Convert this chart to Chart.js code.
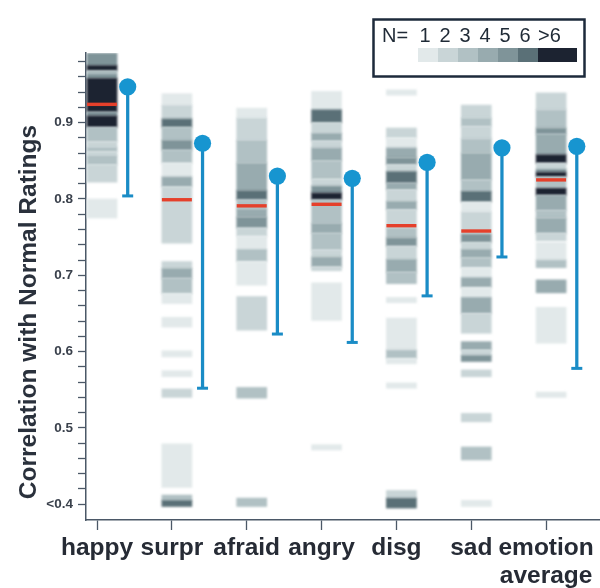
<!DOCTYPE html>
<html><head><meta charset="utf-8">
<script src="https://cdn.jsdelivr.net/npm/chart.js@4/dist/chart.umd.min.js"></script>
<style>html,body{margin:0;padding:0;background:#fff}canvas{display:block}</style>
</head><body>
<canvas id="c" width="600" height="588"></canvas>
<script>
// ---------------- data ----------------
const categories = ['happy', 'surpr', 'afraid', 'angry', 'disg', 'sad', 'emotion average'];

// Density strips: [upper, lower, N]  (N = 7 means ">6")
const happyBands = [[0.991,0.975,5],[0.975,0.968,7],[0.968,0.964,3],[0.964,0.958,5],[0.958,0.914,7],[0.914,0.909,5],[0.909,0.894,7],
  [0.894,0.875,3],[0.875,0.868,2],[0.868,0.862,3],[0.862,0.857,2],[0.857,0.845,3],[0.845,0.822,2],[0.800,0.775,1]];
const surprBands = [[0.938,0.923,1],[0.923,0.905,2],[0.905,0.894,6],[0.894,0.877,3],[0.877,0.864,5],[0.864,0.847,3],[0.847,0.829,1],
  [0.829,0.816,4],[0.816,0.742,2],[0.718,0.709,2],[0.709,0.696,4],[0.696,0.676,3],[0.676,0.663,1],[0.645,0.632,1],[0.601,0.593,1],
  [0.575,0.567,1],[0.551,0.540,2],[0.479,0.422,1],[0.412,0.405,3],[0.405,0.397,6]];
const afraidBands = [[0.919,0.906,1],[0.906,0.877,2],[0.877,0.847,3],[0.847,0.811,4],[0.811,0.799,6],[0.799,0.787,3],[0.787,0.776,4],
  [0.776,0.762,5],[0.762,0.751,2],[0.751,0.734,1],[0.734,0.718,3],[0.718,0.687,1],[0.672,0.628,2],[0.553,0.539,3],[0.408,0.397,3]];
const angryBands = [[0.941,0.917,1],[0.917,0.900,6],[0.900,0.886,2],[0.886,0.876,4],[0.876,0.867,2],[0.867,0.850,4],[0.850,0.826,3],
  [0.826,0.817,2],[0.817,0.808,5],[0.808,0.799,7],[0.799,0.768,3],[0.768,0.755,4],[0.755,0.733,3],[0.733,0.724,2],[0.724,0.711,4],
  [0.711,0.706,2],[0.690,0.641,1],[0.478,0.471,1]];
const disgBands = [[0.943,0.936,1],[0.893,0.880,2],[0.880,0.867,1],[0.867,0.854,4],[0.854,0.845,5],[0.845,0.836,2],[0.836,0.821,6],
  [0.821,0.812,4],[0.812,0.797,2],[0.797,0.786,4],[0.786,0.762,2],[0.762,0.749,3],[0.749,0.738,5],[0.738,0.721,2],[0.721,0.704,4],
  [0.704,0.689,3],[0.671,0.664,1],[0.644,0.602,1],[0.602,0.591,3],[0.591,0.584,1],[0.559,0.552,1],[0.418,0.408,2],[0.408,0.395,6]];
const sadBands = [[0.923,0.906,2],[0.906,0.895,3],[0.895,0.879,2],[0.879,0.860,3],[0.860,0.825,4],[0.825,0.810,3],[0.810,0.796,6],
  [0.796,0.783,1],[0.783,0.754,2],[0.754,0.743,5],[0.743,0.734,2],[0.734,0.723,4],[0.723,0.710,3],[0.710,0.697,1],[0.697,0.684,4],
  [0.684,0.671,1],[0.671,0.650,4],[0.650,0.624,2],[0.613,0.602,4],[0.602,0.595,2],[0.595,0.587,5],[0.576,0.567,2],[0.519,0.508,2],
  [0.475,0.458,3],[0.405,0.397,1]];
const averageBands = [[0.939,0.917,2],[0.917,0.893,3],[0.893,0.885,5],[0.885,0.858,4],[0.858,0.847,7],[0.847,0.839,2],[0.839,0.835,5],
  [0.835,0.829,7],[0.829,0.814,3],[0.814,0.805,7],[0.805,0.785,4],[0.785,0.775,3],[0.775,0.755,4],[0.755,0.745,2],[0.743,0.720,1],
  [0.720,0.710,3],[0.694,0.677,4],[0.658,0.611,1],[0.547,0.540,1]];

// Median patient correlation (red bars)
const medians = [0.924, 0.799, 0.791, 0.793, 0.765, 0.758, 0.825];
// Normal-subject range (blue lollipops): top dot and bottom cap
const normalHigh = [0.947, 0.873, 0.830, 0.827, 0.848, 0.867, 0.869];
const normalLow  = [0.804, 0.552, 0.623, 0.612, 0.673, 0.724, 0.578];

// Axis ticks
const yMajorTicks  = [0.4, 0.5, 0.6, 0.7, 0.8, 0.9];
const yMajorLabels = ['<0.4', '0.5', '0.6', '0.7', '0.8', '0.9'];
const yMinorTicks  = [0.42, 0.44, 0.46, 0.48, 0.52, 0.54, 0.56, 0.58, 0.62, 0.64, 0.66, 0.68, 0.72, 0.74, 0.76, 0.78,
                      0.82, 0.84, 0.86, 0.88, 0.92, 0.94, 0.96, 0.98];
const legendLabels = ['1', '2', '3', '4', '5', '6', '>6'];

// ---------------- styling ----------------
const grays = ['#e2e9ea', '#c9d5d7', '#b1c1c4', '#98abaf', '#7f9499', '#5a7077', '#1c2331'];
const FONT = '"Liberation Sans", Arial, Helvetica, sans-serif';
const STRIP_OFF = 0.067, LOLLI_OFF = 0.41;
const allBands = [happyBands, surprBands, afraidBands, angryBands, disgBands, sadBands, averageBands];

const bandData = [], bandColors = [];
allBands.forEach((bands, i) => bands.forEach(b => {
  bandData.push({x: i + STRIP_OFF, y: [b[1], b[0]]});
  bandColors.push(grays[b[2] - 1]);
}));

const blurPlugin = {
  id: 'blurBands',
  beforeDatasetDraw(chart, args) { if (args.index === 0) { chart.ctx.save(); chart.ctx.filter = 'blur(0.8px)'; } },
  afterDatasetDraw(chart, args) { if (args.index === 0) { chart.ctx.restore(); } }
};

const decoPlugin = {
  id: 'deco',
  afterDraw(chart) {
    const ctx = chart.ctx;
    ctx.save();
    // y-axis title
    ctx.translate(29, 312);
    ctx.rotate(-Math.PI / 2);
    ctx.font = 'bold 24.5px ' + FONT;
    ctx.fillStyle = '#2a313c';
    ctx.textAlign = 'center';
    ctx.textBaseline = 'middle';
    ctx.fillText('Correlation with Normal Ratings', 0, 0);
    ctx.restore();

    // N legend
    ctx.save();
    ctx.strokeStyle = '#1d2a3b';
    ctx.lineWidth = 2.5;
    ctx.strokeRect(373.5, 19.5, 211, 57);
    ctx.fillStyle = '#1f2a36';
    ctx.font = '20px "Liberation Sans Narrow", "Liberation Sans", Arial, sans-serif';
    ctx.textBaseline = 'middle';
    ctx.textAlign = 'left';
    ctx.fillText('N=', 382, 36);
    ctx.textAlign = 'center';
    let x = 418;
    legendLabels.forEach((lab, k) => {
      const w = k === 6 ? 39 : 20;
      ctx.fillStyle = grays[k];
      ctx.fillRect(x, 48, w, 14);
      ctx.fillStyle = '#1f2a36';
      ctx.fillText(lab, x + w / 2 - (k === 6 ? 8 : 3), 36);
      x += w;
    });
    ctx.restore();
  }
};

new Chart(document.getElementById('c'), {
  type: 'bar',
  data: {
    datasets: [
      { type: 'bar', data: bandData, backgroundColor: bandColors, borderWidth: 0, barThickness: 30,
        grouped: false, order: 5 },
      { type: 'line', data: medians.map((m, i) => ({x: i + STRIP_OFF, y: m})), showLine: false,
        pointStyle: 'line', pointRadius: 15, pointBorderWidth: 3.4, pointBorderColor: '#e5402b', order: 4 },
      { type: 'bar', data: normalHigh.map((h, i) => ({x: i + LOLLI_OFF, y: [normalLow[i], h]})),
        backgroundColor: '#1a8cc6', borderWidth: 0, barThickness: 2.6, grouped: false, order: 3 },
      { type: 'line', data: normalLow.map((l, i) => ({x: i + LOLLI_OFF, y: l})), showLine: false,
        pointStyle: 'line', pointRadius: 5.5, pointBorderWidth: 3, pointBorderColor: '#1a8cc6', order: 2 },
      { type: 'line', data: normalHigh.map((h, i) => ({x: i + LOLLI_OFF, y: h})), showLine: false,
        pointStyle: 'circle', pointRadius: 8.6, pointBorderWidth: 0, pointBackgroundColor: '#1795d0', order: 1 }
    ]
  },
  options: {
    responsive: false,
    animation: false,
    devicePixelRatio: 1,
    events: [],
    layout: { autoPadding: false, padding: { top: 53, right: 0, bottom: 0, left: 0 } },
    plugins: { legend: { display: false }, tooltip: { enabled: false } },
    scales: {
      x: {
        type: 'linear', min: -0.147, max: 6.72, offset: false,
        afterBuildTicks: s => { s.ticks = categories.map((c, i) => ({value: i})); },
        afterFit: s => { s.height = 68; s.paddingLeft = 0; s.paddingRight = 0; },
        grid: { display: true, offset: false, drawOnChartArea: false, drawTicks: true, tickLength: 10, tickColor: '#4b5867', tickWidth: 1.3 },
        border: { display: true, color: '#4b5867', width: 1.5 },
        ticks: {
          autoSkip: false, maxRotation: 0, minRotation: 0, padding: 4,
          color: '#262b35',
          font: { family: FONT, size: 24.5, weight: 'bold', lineHeight: 1.15 },
          callback: (v) => { const c = categories[Math.round(v)]; return c.includes(' ') ? c.split(' ') : c; }
        }
      },
      y: {
        type: 'linear', min: 0.3793, max: 0.9913,
        afterBuildTicks: s => {
          s.ticks = yMajorTicks.concat(yMinorTicks).sort((a, b) => a - b).map(v => ({value: v}));
        },
        afterFit: s => { s.width = 86; s.paddingTop = 0; s.paddingBottom = 0; },
        grid: { display: true, drawOnChartArea: false, drawTicks: true, tickLength: 8, tickColor: '#4b5867', tickWidth: 1.3 },
        border: { display: true, color: '#4b5867', width: 1.5 },
        ticks: {
          autoSkip: false, padding: 5,
          color: '#3a414c',
          font: { family: FONT, size: 13.5, weight: 'bold' },
          callback: (v) => {
            const k = yMajorTicks.findIndex(t => Math.abs(t - v) < 1e-6);
            return k >= 0 ? yMajorLabels[k] : '';
          }
        }
      }
    }
  },
  plugins: [blurPlugin, decoPlugin]
});
</script>
</body></html>
